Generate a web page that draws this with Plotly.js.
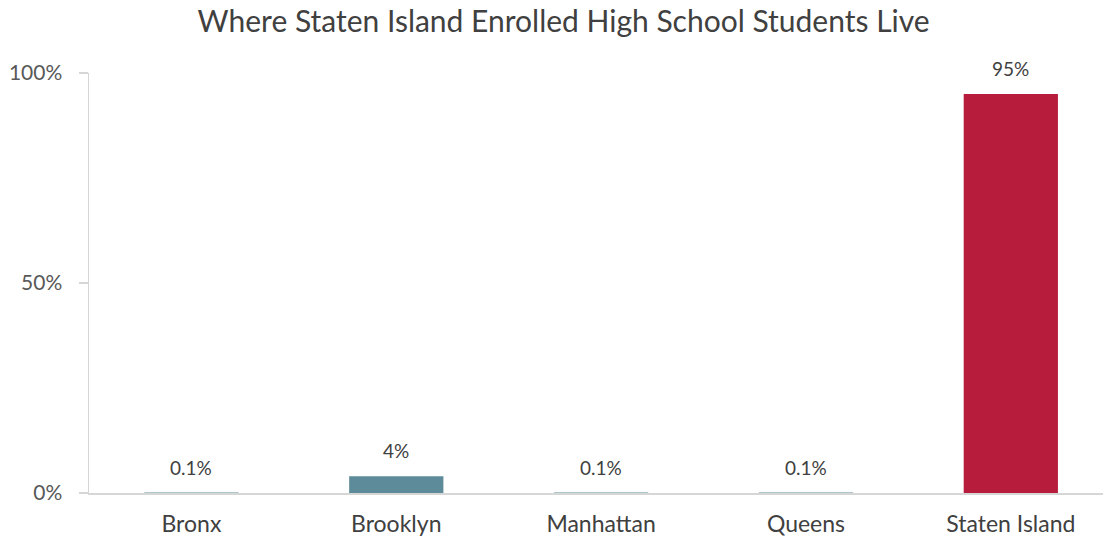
<!DOCTYPE html>
<html>
<head>
<meta charset="utf-8">
<script src="https://cdn.plot.ly/plotly-3.0.1.min.js"></script>
<style>html,body{margin:0;padding:0;background:#fff;}#chart{width:1103px;height:544px;}</style>
</head>
<body>
<div id="chart"></div>
<script>
const categories = ["Bronx", "Brooklyn", "Manhattan", "Queens", "Staten Island"];
const shares = [0.001, 0.04, 0.001, 0.001, 0.95];
const valueLabels = ["0.1%", "4%", "0.1%", "0.1%", "95%"];
const barColors = ["#5E8B9A", "#5E8B9A", "#5E8B9A", "#5E8B9A", "#B71C3C"];
const yTickVals = [0, 0.5, 1];
const yTickText = ["0%", "50%", "100%"];

const FONT = "Lato, 'Open Sans', sans-serif";

const trace = {
  type: "bar",
  x: [0, 1, 2, 3, 4],
  y: shares,
  marker: {color: barColors},
  hoverinfo: "skip"
};

const annotations = categories.map((c, i) => ({
  x: i, y: shares[i], xref: "x", yref: "y",
  text: valueLabels[i], showarrow: false,
  yanchor: "bottom", yshift: 12,
  font: {family: FONT, size: 19, color: "#404040"}
}));

const layout = {
  width: 1103, height: 544,
  margin: {l: 89, r: 0, t: 73, b: 51, pad: 0},
  paper_bgcolor: "#fff", plot_bgcolor: "#fff",
  title: {text: "Where Staten Island Enrolled High School Students Live",
    font: {family: FONT, size: 30, color: "#404040"},
    x: 0.511, xref: "container", xanchor: "center", y: 0.96, yanchor: "middle"},
  bargap: 0.54,
  xaxis: {
    range: [-0.5, 4.45],
    tickmode: "array", tickvals: [0, 1, 2, 3, 4], ticktext: categories,
    showgrid: false, zeroline: false, showline: true, linecolor: "#d6d6d6", linewidth: 1.5,
    ticks: "", tickfont: {family: FONT, size: 23, color: "#404040"},
    ticklabelstandoff: 10
  },
  yaxis: {
    range: [0, 1], showgrid: false, zeroline: false,
    showline: true, linecolor: "#d6d6d6", linewidth: 1.5,
    ticks: "outside", ticklen: 9, tickcolor: "#d6d6d6", tickwidth: 1.5,
    tickvals: yTickVals, ticktext: yTickText,
    tickfont: {family: FONT, size: 21, color: "#595959"},
    ticklabelstandoff: 12
  },
  annotations: annotations,
  showlegend: false
};

Plotly.newPlot("chart", [trace], layout, {displayModeBar: false, staticPlot: true});
</script>
</body>
</html>
